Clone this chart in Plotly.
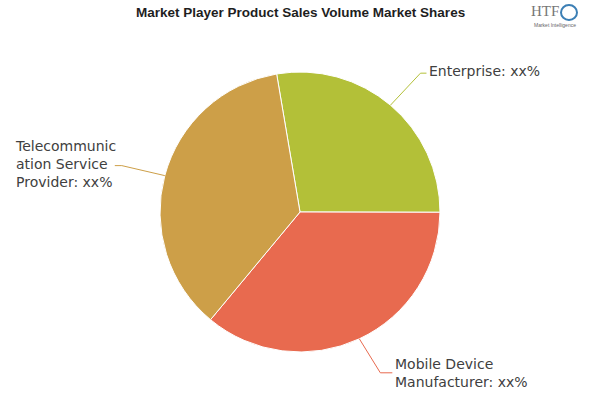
import math
import plotly.graph_objects as go

labels = ["Enterprise", "Mobile Device Manufacturer", "Telecommunication Service Provider"]
label_text = ["Enterprise: xx%", "Mobile Device<br>Manufacturer: xx%", "Telecommunic<br>ation Service<br>Provider: xx%"]
values = [27.7, 36.0, 36.3]
colors = ["#b3c038", "#e86a4f", "#cd9f48"]
rotation = -9.6

W, H = 600, 400
cx, cy, R = 300, 212, 140

fig = go.Figure(go.Pie(
    labels=labels, values=values, sort=False, direction="clockwise",
    rotation=rotation, textinfo="none", hoverinfo="label+percent",
    marker=dict(colors=colors, line=dict(color="white", width=1)),
    domain=dict(x=[(cx - R) / W, (cx + R) / W], y=[1 - (cy + R) / H, 1 - (cy - R) / H]),
    showlegend=False,
))

total = sum(values)
start = rotation
shapes = []
annotations = []
# (elbow dx, elbow dy, horizontal run, text x, text yshift)
layout_lab = [(30, -32, 6, None, 2), (21, 34, 12, None, 0), (-43, -10, -7, 13, 2)]
for i, v in enumerate(values):
    span = v / total * 360
    mid = math.radians(start + span / 2)
    start += span
    px = cx + R * math.sin(mid)
    py = cy - R * math.cos(mid)
    ex, ey, run, tx, ys = layout_lab[i]
    qx, qy = px + ex, py + ey
    rx = qx + run
    path = "M {} {} L {} {} L {} {}".format(px / W, 1 - py / H, qx / W, 1 - qy / H, rx / W, 1 - qy / H)
    shapes.append(dict(type="path", path=path, xref="paper", yref="paper",
                       line=dict(color=colors[i], width=1)))
    x_text = (rx + 1) / W if tx is None else tx / W
    annotations.append(dict(x=x_text, y=1 - qy / H, xref="paper", yref="paper",
                            text=label_text[i], showarrow=False, xanchor="left",
                            yanchor="middle", align="left", yshift=ys,
                            font=dict(family="DejaVu Sans", size=14, color="#404040")))

annotations.append(dict(x=0.5, y=1 - 12 / H, xref="paper", yref="paper",
                        text="<b>Market Player Product Sales Volume Market Shares</b>",
                        showarrow=False, xanchor="center", yanchor="middle",
                        font=dict(family="Liberation Sans Narrow, Arial Narrow, sans-serif", size=13.5, color="#1e1e1e")))
annotations.append(dict(x=545 / W, y=1 - 11 / H, xref="paper", yref="paper", text="HTF",
                        showarrow=False, xanchor="center", yanchor="middle",
                        font=dict(family="Liberation Serif", size=15, color="#777777")))
annotations.append(dict(x=555 / W, y=1 - 25 / H, xref="paper", yref="paper", text="Market Intelligence",
                        showarrow=False, xanchor="center", yanchor="middle",
                        font=dict(family="Liberation Sans", size=5, color="#666666")))
shapes.append(dict(type="circle", xref="paper", yref="paper",
                   x0=561 / W, x1=577 / W, y0=1 - 20 / H, y1=1 - 5 / H,
                   line=dict(color="#3c7fb5", width=2), fillcolor="rgba(0,0,0,0)"))

fig.update_layout(width=W, height=H, margin=dict(l=0, r=0, t=0, b=0),
                  paper_bgcolor="white", plot_bgcolor="white",
                  shapes=shapes, annotations=annotations)
fig.write_html("out.html", config={"displayModeBar": False},
               post_script="document.body.style.margin='0';")
